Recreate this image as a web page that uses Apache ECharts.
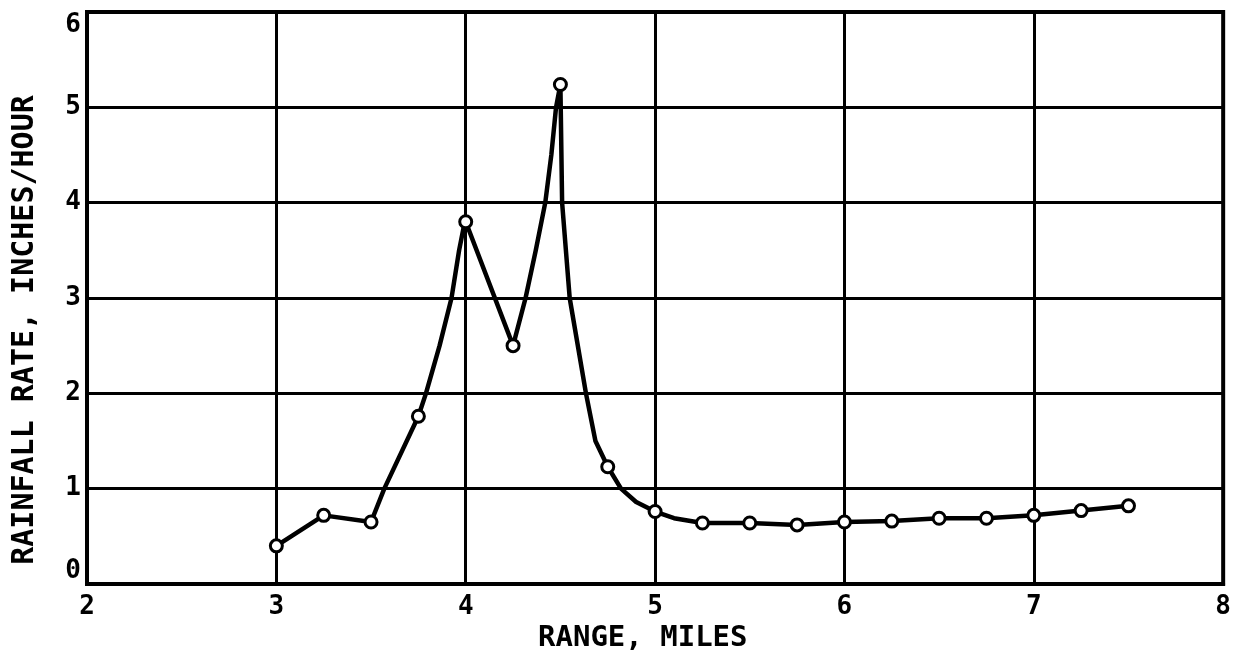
<!DOCTYPE html>
<html>
<head>
<meta charset="utf-8">
<script src="https://cdn.jsdelivr.net/npm/echarts@6/dist/echarts.min.js"></script>
<style>
html,body{margin:0;padding:0;background:#fff;}
#chart{width:1234px;height:668px;}
</style>
</head>
<body>
<div id="chart"></div>
<script>
// Measured data points (range in miles, rainfall rate in inches/hour)
var rangeMiles = [3, 3.25, 3.5, 3.75, 4, 4.25, 4.5, 4.75, 5, 5.25, 5.5, 5.75, 6, 6.25, 6.5, 6.75, 7, 7.25, 7.5];
var rainRate   = [0.40, 0.72, 0.65, 1.76, 3.80, 2.50, 5.24, 1.23, 0.76, 0.64, 0.64, 0.62, 0.65, 0.66, 0.69, 0.69, 0.72, 0.77, 0.82];

// Faired curve as drawn in the figure
var curveX = [3, 3.25, 3.5, 3.57, 3.75, 3.79, 3.862, 3.925, 3.965, 3.99, 4.0, 4.25, 4.316, 4.37, 4.42, 4.452, 4.477, 4.5, 4.509, 4.549, 4.635, 4.685, 4.75, 4.82, 4.9, 5.0, 5.1, 5.25, 5.5, 5.75, 6, 6.25, 6.5, 6.75, 7, 7.25, 7.5];
var curveY = [0.40, 0.72, 0.65, 1.0, 1.76, 2.0, 2.5, 3.0, 3.5, 3.75, 3.80, 2.50, 3.0, 3.5, 4.0, 4.5, 5.0, 5.24, 4.0, 3.0, 2.0, 1.5, 1.23, 1.0, 0.86, 0.76, 0.69, 0.64, 0.64, 0.62, 0.65, 0.66, 0.69, 0.69, 0.72, 0.77, 0.82];

var xTicks = [2, 3, 4, 5, 6, 7, 8];
var yTicks = [0, 1, 2, 3, 4, 5, 6];
var xTitle = 'RANGE, MILES';
var yTitle = 'RAINFALL RATE, INCHES/HOUR';

var FONT = '"DejaVu Sans Mono", monospace';
var chart = echarts.init(document.getElementById('chart'), null, {renderer: 'canvas'});

var markerData = rangeMiles.map(function (x, i) { return [x, rainRate[i]]; });
var curveData = curveX.map(function (x, i) { return [x, curveY[i]]; });

chart.setOption({
  backgroundColor: '#ffffff',
  animation: false,
  grid: {
    left: 87, right: 3, top: 12, bottom: 84,
    show: true, borderColor: '#000', borderWidth: 4, backgroundColor: 'transparent'
  },
  xAxis: {
    type: 'value',
    min: xTicks[0], max: xTicks[xTicks.length - 1], interval: 1,
    axisLine: {show: true, lineStyle: {color: '#000', width: 4}},
    axisTick: {show: false},
    splitLine: {show: true, lineStyle: {color: '#000', width: 3}},
    axisLabel: {
      color: '#000', fontFamily: FONT, fontSize: 26, fontWeight: 'bold', margin: 10,
      formatter: function (v) { return String(v); }
    }
  },
  yAxis: {
    type: 'value',
    min: yTicks[0], max: yTicks[yTicks.length - 1], interval: 1,
    axisLine: {show: true, lineStyle: {color: '#000', width: 4}},
    axisTick: {show: false},
    splitLine: {show: true, lineStyle: {color: '#000', width: 3}},
    axisLabel: {
      color: '#000', fontFamily: FONT, fontSize: 26, fontWeight: 'bold', margin: 6,
      verticalAlignMaxLabel: 'top', verticalAlignMinLabel: 'bottom',
      formatter: function (v) { return String(v); }
    }
  },
  graphic: [
    {
      type: 'text', left: 538, top: 624,
      style: {text: xTitle, fill: '#000', font: 'bold 29px ' + FONT}
    },
    {
      type: 'text', x: 10, y: 330, rotation: Math.PI / 2,
      style: {text: yTitle, fill: '#000', font: 'bold 30px ' + FONT, align: 'center', verticalAlign: 'top'}
    }
  ],
  series: [
    {
      type: 'line', data: curveData, showSymbol: false, symbol: 'none',
      smooth: false,
      lineStyle: {color: '#000', width: 4.5, join: 'round'}, z: 3
    },
    {
      type: 'scatter', data: markerData, symbol: 'circle', symbolSize: 12,
      itemStyle: {color: '#fff', opacity: 1, borderColor: '#000', borderWidth: 3}, z: 4
    }
  ]
});
</script>
</body>
</html>
